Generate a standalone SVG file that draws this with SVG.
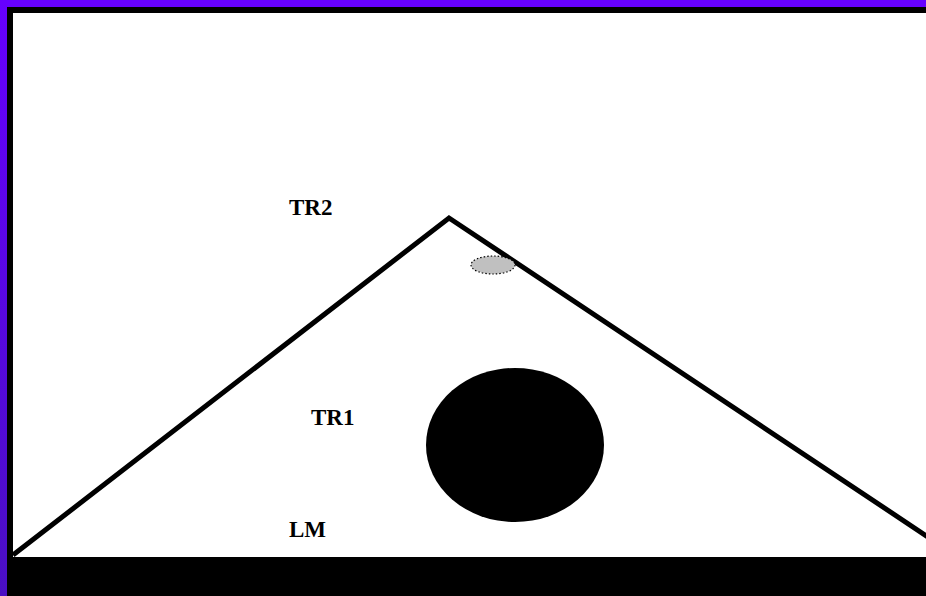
<svg xmlns="http://www.w3.org/2000/svg" width="926" height="596" viewBox="0 0 926 596">
<defs>
<linearGradient id="pg" x1="0" y1="0" x2="0" y2="1">
<stop offset="0" stop-color="#6600ff"/>
<stop offset="1" stop-color="#4a0fc4"/>
</linearGradient>
<style>
.lbl{font-family:"Liberation Serif",serif;font-weight:bold;font-size:23px;fill:#000}
.edge{fill:none;stroke:#000;stroke-width:5}
</style>
</defs>
<rect x="0" y="0" width="926" height="596" fill="#fff"/>
<rect x="0" y="0" width="926" height="7" fill="#6600ff"/>
<rect x="0" y="0" width="7" height="596" fill="url(#pg)"/>
<rect x="7" y="7" width="919" height="6" fill="#000"/>
<rect x="7" y="7" width="6" height="589" fill="#000"/>
<rect x="7" y="557" width="919" height="39" fill="#000"/>
<g id="connectors">
<polyline class="edge" points="13,555 449,218 928,537"/>
</g>
<g id="ellipse-small">
<ellipse cx="493" cy="265" rx="22" ry="9" fill="#c0c0c0" stroke="#000" stroke-width="1.2" stroke-dasharray="1.5,2"/>
</g>
<g id="ellipse-large">
<ellipse cx="515" cy="445" rx="89" ry="77" fill="#000"/>
</g>
<g id="TR2"><text class="lbl" x="289" y="215">TR2</text></g>
<g id="TR1"><text class="lbl" x="311" y="425">TR1</text></g>
<g id="LM"><text class="lbl" x="289" y="537">LM</text></g>
</svg>
